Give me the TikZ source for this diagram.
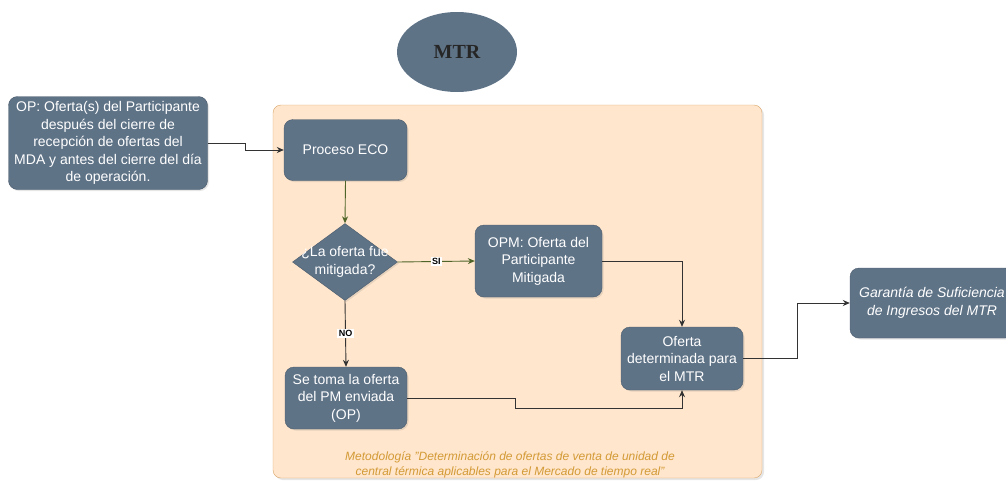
\documentclass[tikz,border=0pt]{standalone}
\usepackage{fontspec}
\setmainfont{Liberation Sans}
\newfontfamily\mtrfont{Liberation Serif}
\usepackage{tikz}
\usetikzlibrary{arrows.meta,positioning,shapes.geometric,shadows,calc}
\definecolor{boxgray}{HTML}{5F7387}
\definecolor{boxline}{HTML}{4A5B6C}
\definecolor{contfill}{HTML}{FFE6CC}
\definecolor{contline}{HTML}{D9A66A}
\definecolor{capcol}{HTML}{D39A36}
\definecolor{olive}{RGB}{78,100,40}
\definecolor{arrcol}{HTML}{333333}

\begin{document}
\begin{tikzpicture}[x=1pt,y=-1pt,font=\fontsize{14}{17.5}\selectfont,
  box/.style={draw=boxline,fill=boxgray,text=white,rounded corners=9pt,align=center,
    inner sep=2pt,drop shadow={opacity=0.2,shadow xshift=1.5pt,shadow yshift=-1.5pt}},
  arr/.style={draw=arrcol,line width=0.9pt,-{Stealth[length=7pt,width=6pt]}},
  garr/.style={arr,draw=olive},
  lab/.style={fill=white,font=\fontsize{9}{10}\selectfont\bfseries,inner sep=1.5pt}]
\useasboundingbox (0,0) rectangle (1006,485);
\clip (0,0) rectangle (1006,485);
\node[draw=contline,fill=contfill,rounded corners=8pt,minimum width=489,minimum height=373,
  drop shadow={opacity=0.2,shadow xshift=2pt,shadow yshift=-2pt}] (cont) at (517.5,291.5) {};
\node[ellipse,fill=boxgray,minimum width=120,minimum height=80,
  font=\mtrfont\fontsize{20}{22}\selectfont\bfseries,text=black!85] (mtr) at (457,52) {MTR};
\node[box,minimum width=199,minimum height=93] (op) at (108,143)
  {OP: Oferta(s) del Participante\\despu\'es del cierre de\\recepci\'on de ofertas del\\MDA y antes del cierre del d\'ia\\de operaci\'on.};
\node[box,minimum width=123,minimum height=61] (eco) at (345.5,150) {Proceso ECO};
\node[diamond,draw=boxline,fill=boxgray,minimum width=105,minimum height=77,inner sep=0pt,
  drop shadow={opacity=0.2,shadow xshift=1.5pt,shadow yshift=-1.5pt}] (dec) at (345,262) {};
\node[text=white,align=center] (dectxt) at (dec) {¿La oferta fue\\mitigada?};
\node[box,minimum width=127,minimum height=72] (opm) at (538.5,261)
  {OPM: Oferta del\\Participante\\Mitigada};
\node[box,minimum width=122,minimum height=63] (ofd) at (682,358.5)
  {Oferta\\determinada para\\el MTR};
\node[box,minimum width=122,minimum height=62] (pm) at (346,398)
  {Se toma la oferta\\del PM enviada\\(OP)};
\node[box,minimum width=164,minimum height=70,font=\fontsize{14}{17.5}\selectfont\itshape] (gar) at (932,303)
  {Garant\'ia de Suficiencia\\de Ingresos del MTR};
\node[text=capcol,align=center,font=\fontsize{12}{15.5}\selectfont\itshape] (cap) at (510,465)
  {Metodolog\'ia "Determinaci\'on de ofertas de venta de unidad de\\central t\'ermica aplicables para el Mercado de tiempo real"};
\draw[arr] (op.east) -- ++(38,0) |- (eco.west);
\draw[garr] (eco.south) -- (dec.north);
\draw[garr] (dec.east) -- node[lab] {SI} (opm.west);
\draw[arr] (dec.south) -- node[lab] {NO} (pm.north);
\draw[arr] (opm.east) -| (ofd.north);
\draw[arr] (pm.east) -| ++(108,10) -| (ofd.south);
\draw[arr] (ofd.east) -- ++(54,0) |- (gar.west);
\end{tikzpicture}
\end{document}
